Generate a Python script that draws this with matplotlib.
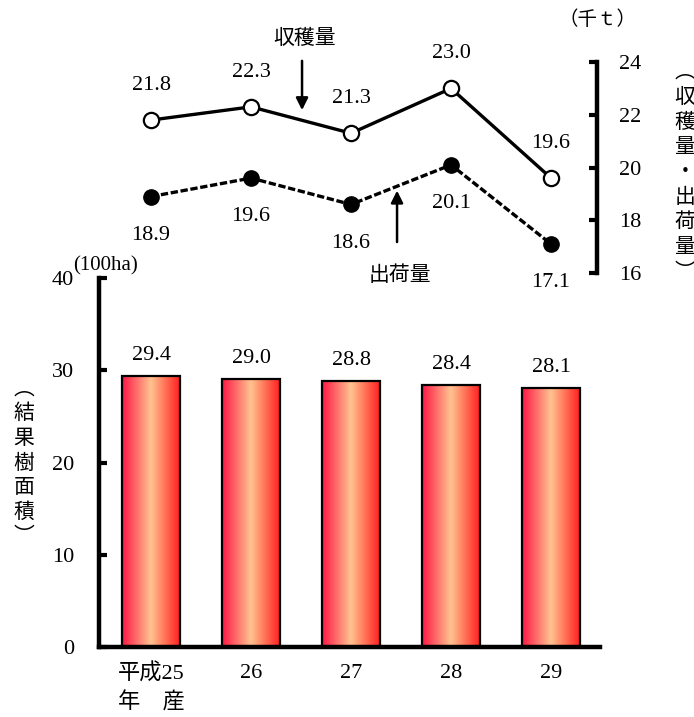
import numpy as np
import matplotlib
matplotlib.use("Agg")
import matplotlib.pyplot as plt
from matplotlib.colors import LinearSegmentedColormap

plt.rcParams['font.family'] = ['Liberation Serif', 'Noto Sans CJK JP']

# data
years = ["平成25\n年　産", "26", "27", "28", "29"]
area = [29.4, 29.0, 28.8, 28.4, 28.1]          # 結果樹面積 (100ha)
harvest = [21.8, 22.3, 21.3, 23.0, 19.6]       # 収穫量 (千t)
shipment = [18.9, 19.6, 18.6, 20.1, 17.1]      # 出荷量 (千t)

x = np.arange(len(years))

fig = plt.figure(figsize=(6.94, 7.17), dpi=100)

# bar chart (bottom)
ax = fig.add_axes([0.1427, 0.0976, 0.7219, 0.5147])
bars = ax.bar(x, area, width=0.58, facecolor='none', edgecolor='black',
              linewidth=1.6, zorder=3)

grad = LinearSegmentedColormap.from_list(
    'bar', [(0.0, '#ff1744'), (0.5, '#ffc390'), (1.0, '#ff1f1f')])
g = np.linspace(0, 1, 256).reshape(1, -1)
for b in bars:
    x0, w, h = b.get_x(), b.get_width(), b.get_height()
    im = ax.imshow(g, cmap=grad, extent=(x0, x0 + w, 0, h), aspect='auto',
                   zorder=2, interpolation='bicubic')
    im.set_clip_path(b)

for xi, v in zip(x, area):
    ax.text(xi, v + 1.2, f"{v:.1f}", ha='center', va='bottom', fontsize=16)

ax.set_xlim(-0.52, 4.49)
ax.set_ylim(0, 40)
ax.set_yticks([0, 10, 20, 30, 40])
ax.set_xticks(x)
ax.set_xticklabels(years, fontsize=16, linespacing=1.45)
ax.tick_params(axis='x', length=0, pad=12)
ax.tick_params(axis='y', direction='in', length=6, width=3, labelsize=16, pad=18)
for s in ['top', 'right']:
    ax.spines[s].set_visible(False)
for s in ['left', 'bottom']:
    ax.spines[s].set_linewidth(3.2)
ax.text(0.012, 1.008, "(100ha)", transform=ax.transAxes, fontsize=15,
        ha='center', va='bottom')
ax.text(-0.15, 0.5, "\n".join("︵結果樹面積︶"), transform=ax.transAxes,
        fontsize=15, ha='center', va='center', linespacing=1.15,
        family=['Noto Sans CJK JP'])

# line chart (top)
ax2 = fig.add_axes([0.1427, 0.6192, 0.7176, 0.2943])
ax2.patch.set_alpha(0)
ax2.plot(x, harvest, color='black', lw=2.4, marker='o', ms=11,
         markerfacecolor='white', markeredgecolor='black', mew=1.6, zorder=3)
ax2.plot(x, shipment, color='black', lw=2.4, ls=(0, (2.2, 0.8)), marker='o',
         ms=11, markerfacecolor='black', markeredgecolor='black', zorder=3)
for xi, v in zip(x, harvest):
    ax2.annotate(f"{v:.1f}", (xi, v), xytext=(0, 25), textcoords='offset points',
                 ha='center', va='center', fontsize=16)
for xi, v in zip(x, shipment):
    ax2.annotate(f"{v:.1f}", (xi, v), xytext=(0, -28), textcoords='offset points',
                 ha='center', va='center', fontsize=16)

ax2.annotate("", xy=(1.51, 22.07), xytext=(1.51, 24.15),
             arrowprops=dict(arrowstyle='-|>', color='black', lw=1.8,
                             mutation_scale=18), annotation_clip=False)
ax2.text(1.54, 24.9, "収穫量", ha='center', va='center', fontsize=15,
         family=['Noto Sans CJK JP'], clip_on=False)
ax2.annotate("", xy=(2.46, 19.23), xytext=(2.46, 17.07),
             arrowprops=dict(arrowstyle='-|>', color='black', lw=1.8,
                             mutation_scale=18), annotation_clip=False)
ax2.text(2.49, 15.93, "出荷量", ha='center', va='center', fontsize=15,
         family=['Noto Sans CJK JP'], clip_on=False)

ax2.set_xlim(-0.52, 4.46)
ax2.set_ylim(16, 24)
ax2.set_yticks([16, 18, 20, 22, 24])
ax2.set_xticks([])
ax2.yaxis.tick_right()
ax2.tick_params(axis='y', direction='in', length=6, width=3, labelsize=16, pad=16)
for s in ['top', 'left', 'bottom']:
    ax2.spines[s].set_visible(False)
ax2.spines['right'].set_linewidth(3.2)
ax2.text(1.0, 1.2, "（千ｔ）", transform=ax2.transAxes, fontsize=14,
         ha='center', va='center', family=['Noto Sans CJK JP'])
ax2.text(1.176, 0.48, "\n".join("︵収穫量・出荷量︶"), transform=ax2.transAxes,
         fontsize=15, ha='center', va='center', linespacing=1.18,
         family=['Noto Sans CJK JP'])

fig.savefig("out.png", dpi=100)
